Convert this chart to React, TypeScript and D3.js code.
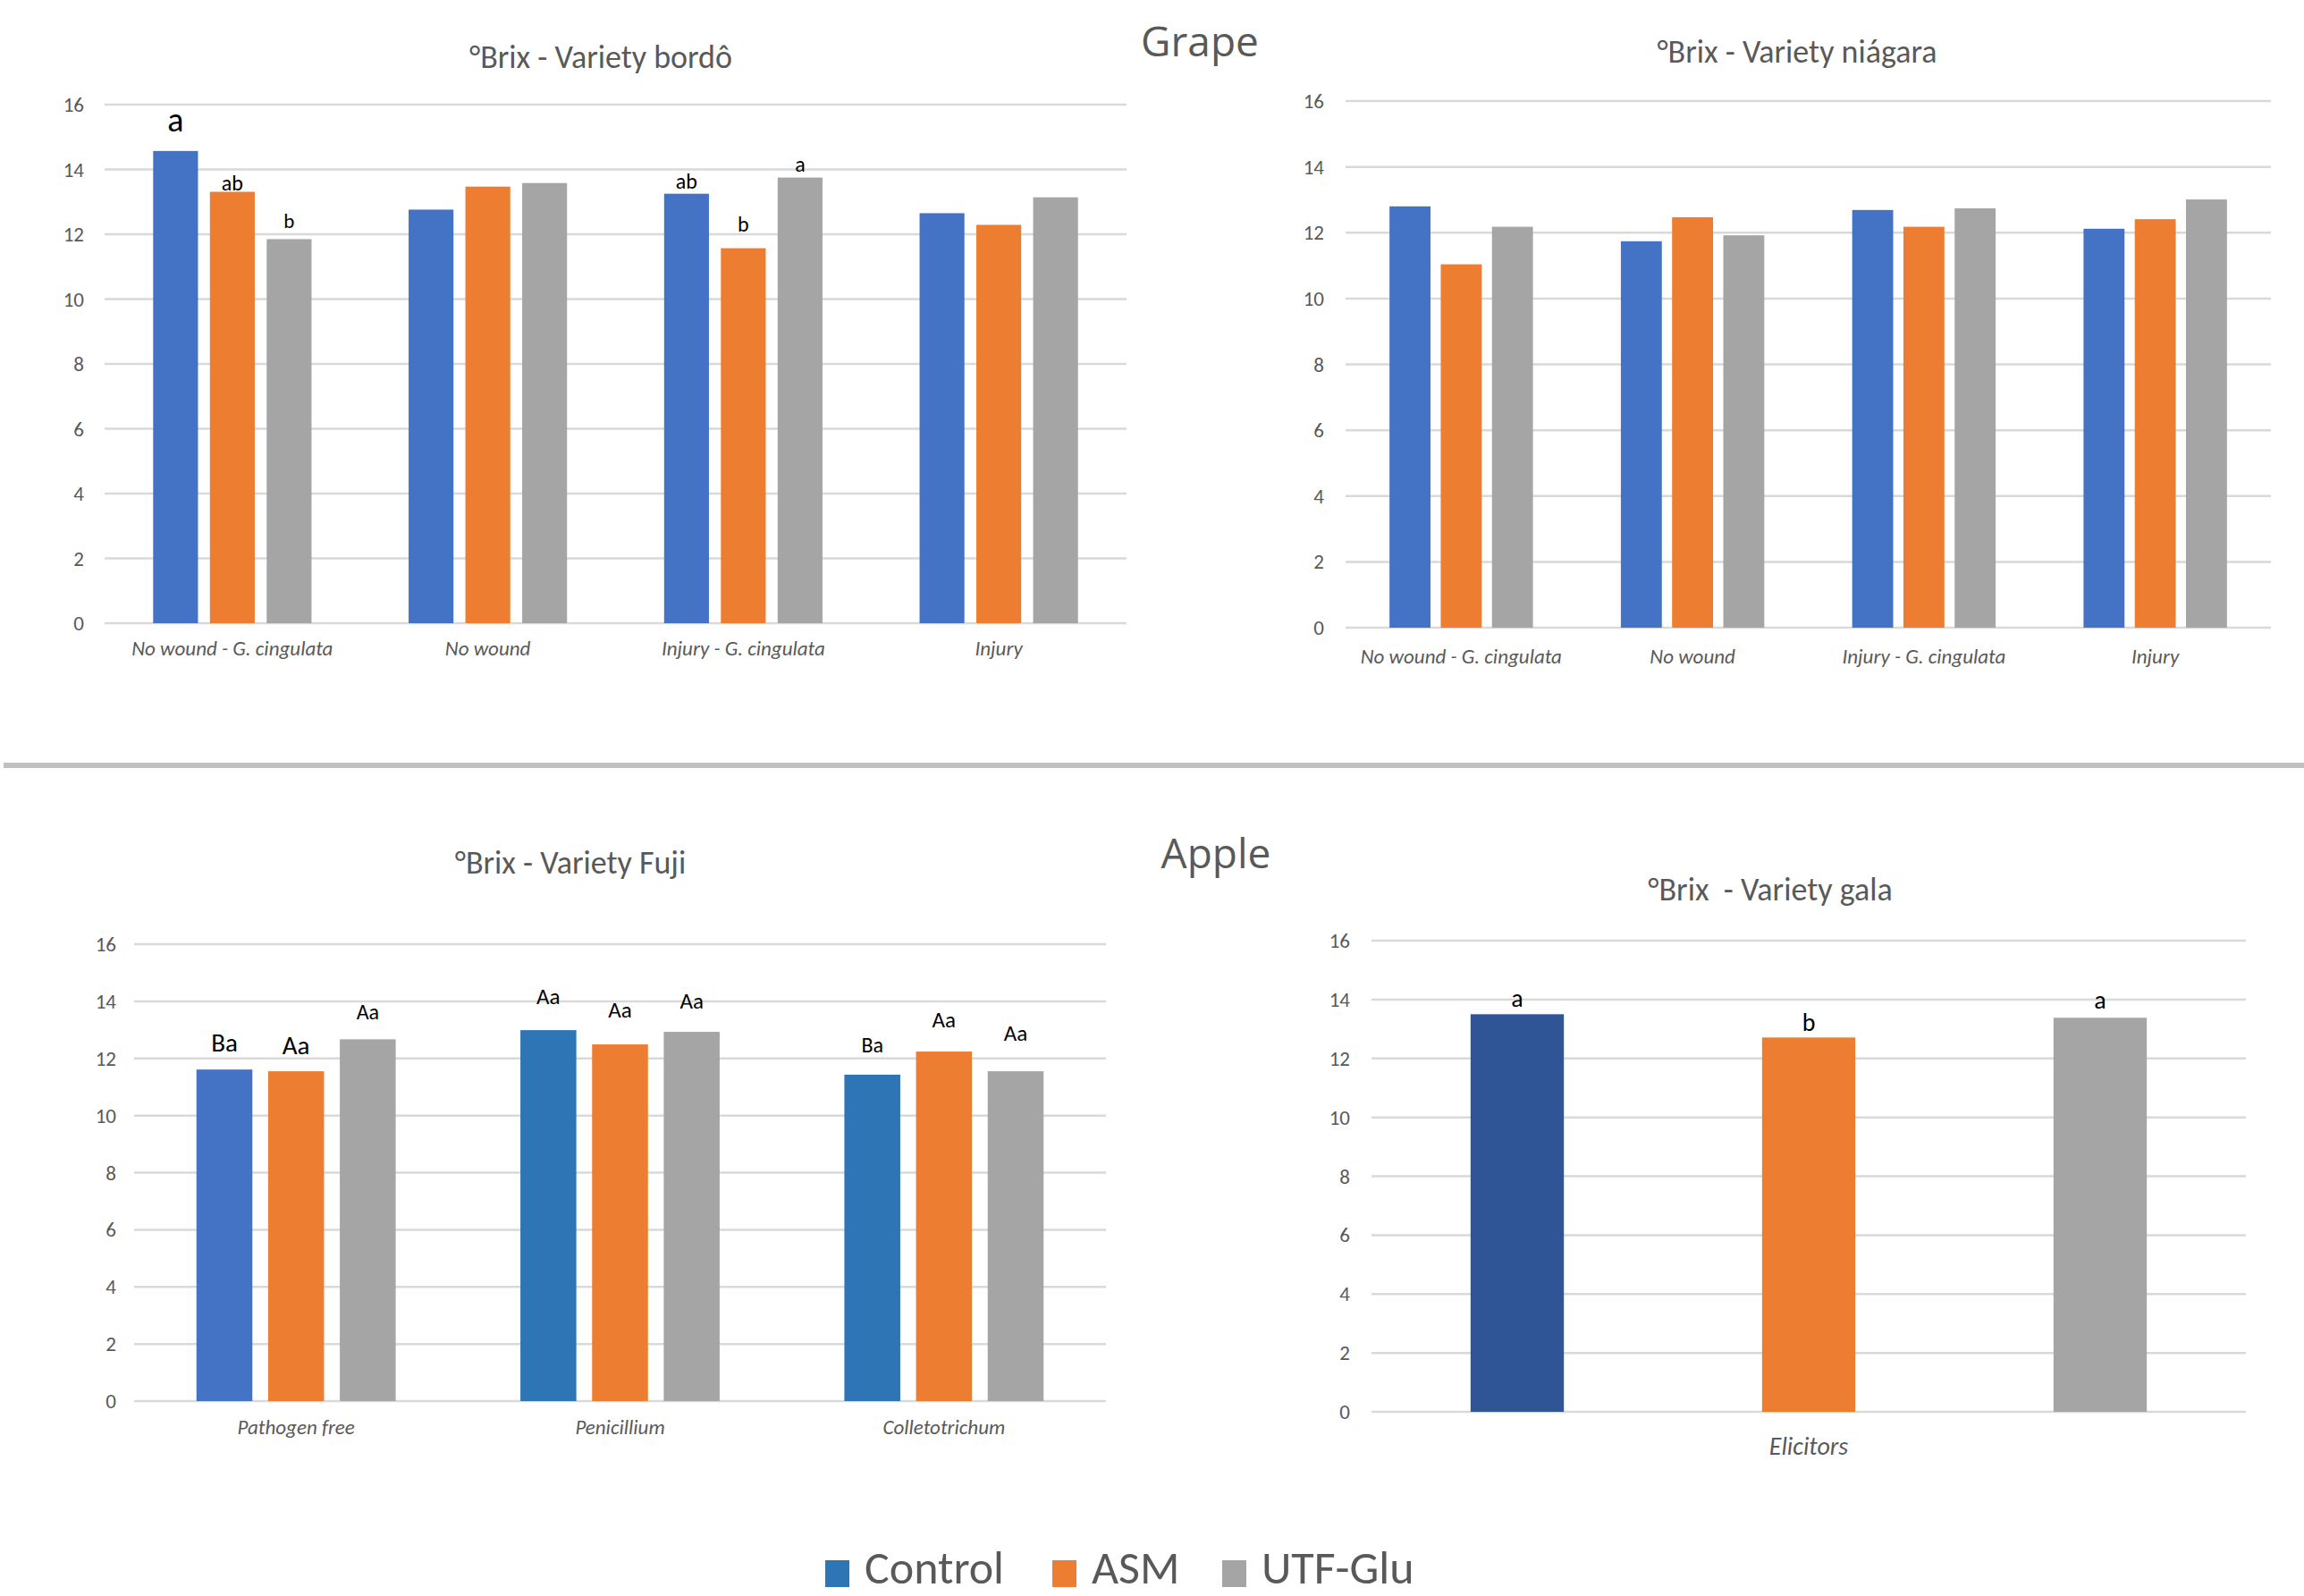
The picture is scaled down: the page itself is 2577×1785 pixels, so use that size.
import React, { useRef, useEffect } from 'react';
import * as d3 from 'd3';

// --- Data ---
const seriesNames = ['Control', 'ASM', 'UTF-Glu'];
const yTicks = [0, 2, 4, 6, 8, 10, 12, 14, 16];

const grapeCategories = ['No wound - G. cingulata', 'No wound', 'Injury - G. cingulata', 'Injury'];

const bordoControl = [14.57, 12.76, 13.25, 12.65];
const bordoASM = [13.31, 13.47, 11.57, 12.29];
const bordoUTF = [11.85, 13.58, 13.75, 13.14];
const bordoLetters = [
  ['a', '', 'ab', ''],
  ['ab', '', 'b', ''],
  ['b', '', 'a', ''],
];

const niagaraControl = [12.8, 11.74, 12.69, 12.12];
const niagaraASM = [11.04, 12.47, 12.18, 12.41];
const niagaraUTF = [12.18, 11.92, 12.74, 13.01];

const fujiCategories = ['Pathogen free', 'Penicillium', 'Colletotrichum'];
const fujiControl = [11.61, 12.99, 11.43];
const fujiASM = [11.55, 12.49, 12.24];
const fujiUTF = [12.67, 12.93, 11.55];
const fujiLetters = [
  ['Ba', 'Aa', 'Ba'],
  ['Aa', 'Aa', 'Aa'],
  ['Aa', 'Aa', 'Aa'],
];

const galaCategories = ['Elicitors'];
const galaControl = [13.5];
const galaASM = [12.71];
const galaUTF = [13.38];
const galaLetters = [['a'], ['b'], ['a']];

// --- Styles ---
const WIDTH = 2577;
const HEIGHT = 1785;
const FONT = "Carlito, 'Liberation Sans Narrow', 'Liberation Sans', sans-serif";
const TEXT_GRAY = '#595959';
const GRID = '#d9d9d9';
const seriesColors = ['#4472c4', '#ed7d31', '#a5a5a5'];

// letter label size / gap above bar, [series][category]
const bordoLetterSize = [[38, 0, 24, 0], [24, 0, 24, 0], [23, 0, 24, 0]];
const bordoLetterGap = [[22, 0, 6, 0], [2, 0, 19, 0], [12, 0, 7, 0]];
const fujiLetterSize = [[29, 25, 24], [29, 25, 25], [24, 25, 25]];
const fujiLetterGap = [[20, 29, 25], [19, 30, 27], [22, 26, 34]];
const galaLetterSize = [[28], [28], [28]];
const galaLetterGap = [[8], [7], [10]];

const drawPanel = (svg, cfg) => {
  const y = d3.scaleLinear().domain([0, 16]).range([cfg.bottom, cfg.top]);

  const x0 = d3.scaleBand()
    .domain(cfg.categories)
    .range([cfg.left, cfg.right])
    .paddingInner(cfg.groupPad)
    .paddingOuter(cfg.groupPad / 2);

  const x1 = d3.scaleBand()
    .domain(seriesNames)
    .range([0, x0.bandwidth()])
    .paddingInner(cfg.barPad)
    .paddingOuter(cfg.barOuter || 0);

  const g = svg.append('g');

  // gridlines
  g.selectAll('line.grid')
    .data(yTicks)
    .join('line')
    .attr('x1', cfg.left)
    .attr('x2', cfg.right)
    .attr('y1', d => y(d))
    .attr('y2', d => y(d))
    .attr('stroke', GRID)
    .attr('stroke-width', 2.5);

  // y tick labels
  g.selectAll('text.tick')
    .data(yTicks)
    .join('text')
    .attr('x', cfg.tickX)
    .attr('y', d => y(d) + 8)
    .attr('text-anchor', 'end')
    .attr('font-family', FONT)
    .attr('font-size', 23)
    .attr('fill', TEXT_GRAY)
    .text(d => d);

  // bars
  cfg.series.forEach((values, si) => {
    g.selectAll(`rect.s${si}`)
      .data(values)
      .join('rect')
      .attr('x', (d, ci) => x0(cfg.categories[ci]) + x1(seriesNames[si]))
      .attr('y', d => y(d))
      .attr('width', x1.bandwidth())
      .attr('height', d => y(0) - y(d))
      .attr('fill', (d, ci) => cfg.color(si, ci));

    if (cfg.letters) {
      g.selectAll(`text.l${si}`)
        .data(values)
        .join('text')
        .attr('x', (d, ci) => x0(cfg.categories[ci]) + x1(seriesNames[si]) + x1.bandwidth() / 2)
        .attr('y', (d, ci) => y(d) - cfg.letterGap[si][ci])
        .attr('text-anchor', 'middle')
        .attr('font-family', FONT)
        .attr('font-size', (d, ci) => cfg.letterSize[si][ci])
        .attr('fill', '#000')
        .text((d, ci) => cfg.letters[si][ci]);
    }
  });

  // category labels
  g.selectAll('text.cat')
    .data(cfg.categories)
    .join('text')
    .attr('x', d => x0(d) + x0.bandwidth() / 2)
    .attr('y', cfg.xLabelY)
    .attr('text-anchor', 'middle')
    .attr('font-family', FONT)
    .attr('font-style', 'italic')
    .attr('font-size', cfg.xLabelSize)
    .attr('fill', TEXT_GRAY)
    .text(d => d);

  // title
  g.append('text')
    .attr('x', cfg.titleX)
    .attr('y', cfg.titleY)
    .attr('text-anchor', 'middle')
    .attr('font-family', FONT)
    .attr('font-size', 36)
    .attr('fill', TEXT_GRAY)
    .style('white-space', 'pre')
    .text(cfg.title);
};

const App = () => {
  const svgRef = useRef(null);

  useEffect(() => {
    const svg = d3.select(svgRef.current).html('');

    svg.append('rect').attr('width', WIDTH).attr('height', HEIGHT).attr('fill', '#fff');

    const plain = (si) => seriesColors[si];

    drawPanel(svg, {
      title: '°Brix - Variety bordô', titleX: 672, titleY: 76,
      categories: grapeCategories,
      series: [bordoControl, bordoASM, bordoUTF],
      letters: bordoLetters, letterSize: bordoLetterSize, letterGap: bordoLetterGap,
      left: 117, right: 1260, top: 117, bottom: 697,
      groupPad: 0.38, barPad: 0.21,
      tickX: 94, xLabelY: 733, xLabelSize: 23,
      color: plain,
    });

    drawPanel(svg, {
      title: '°Brix - Variety niágara', titleX: 2010, titleY: 70,
      categories: grapeCategories,
      series: [niagaraControl, niagaraASM, niagaraUTF],
      left: 1505, right: 2540, top: 113, bottom: 702,
      groupPad: 0.38, barPad: 0.2,
      tickX: 1481, xLabelY: 742, xLabelSize: 23,
      color: plain,
    });

    drawPanel(svg, {
      title: '°Brix - Variety Fuji', titleX: 638, titleY: 977,
      categories: fujiCategories,
      series: [fujiControl, fujiASM, fujiUTF],
      letters: fujiLetters, letterSize: fujiLetterSize, letterGap: fujiLetterGap,
      left: 150, right: 1237, top: 1056, bottom: 1567,
      groupPad: 0.385, barPad: 0.22,
      tickX: 130, xLabelY: 1604, xLabelSize: 23,
      // control bars of the infected groups use a darker blue
      color: (si, ci) => (si === 0 && ci > 0 ? '#2e75b6' : seriesColors[si]),
    });

    drawPanel(svg, {
      title: '°Brix  - Variety gala', titleX: 1980, titleY: 1007,
      categories: galaCategories,
      series: [galaControl, galaASM, galaUTF],
      letters: galaLetters, letterSize: galaLetterSize, letterGap: galaLetterGap,
      left: 1534, right: 2512, top: 1052, bottom: 1579,
      groupPad: 0, barPad: 0.68, barOuter: 0.34,
      tickX: 1510, xLabelY: 1627, xLabelSize: 28,
      color: (si) => (si === 0 ? '#2f5597' : seriesColors[si]),
    });

    // section headings
    svg.append('text')
      .attr('x', 1342).attr('y', 63)
      .attr('text-anchor', 'middle')
      .attr('font-family', "'Open Sans', sans-serif")
      .attr('font-size', 46)
      .attr('fill', TEXT_GRAY)
      .text('Grape');

    svg.append('text')
      .attr('x', 1360).attr('y', 971)
      .attr('text-anchor', 'middle')
      .attr('font-family', "'Open Sans', sans-serif")
      .attr('font-size', 46)
      .attr('fill', TEXT_GRAY)
      .text('Apple');

    // divider between grape and apple
    svg.append('line')
      .attr('x1', 4).attr('x2', WIDTH)
      .attr('y1', 856).attr('y2', 856)
      .attr('stroke', '#c0c0c0')
      .attr('stroke-width', 6);

    // legend
    const legendColors = ['#2e75b6', '#ed7d31', '#a5a5a5'];
    const legendX = [923, 1177, 1367];
    const legend = svg.append('g');
    seriesNames.forEach((name, i) => {
      legend.append('rect')
        .attr('x', legendX[i]).attr('y', 1745)
        .attr('width', 27).attr('height', 30)
        .attr('fill', legendColors[i]);
      legend.append('text')
        .attr('x', legendX[i] + 44).attr('y', 1771)
        .attr('font-family', FONT)
        .attr('font-size', 52)
        .attr('fill', TEXT_GRAY)
        .text(name);
    });
  }, []);

  return (
    <svg
      ref={svgRef}
      width={WIDTH}
      height={HEIGHT}
      style={{ position: 'absolute', left: 0, top: 0 }}
    ></svg>
  );
};

export default App;
